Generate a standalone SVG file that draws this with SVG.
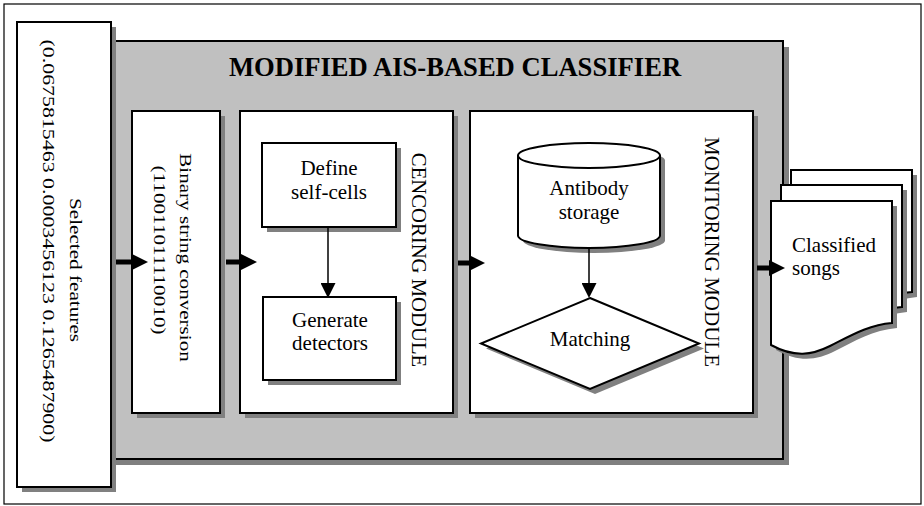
<svg xmlns="http://www.w3.org/2000/svg" width="924" height="506" viewBox="0 0 924 506">
<style>
  .box{fill:#fff;stroke:#000;stroke-width:2}
  .shadow{fill:#808080;stroke:none}
  .panel{fill:#C0C0C0;stroke:#000;stroke-width:2}
  text{font-family:"Liberation Serif","Times New Roman",serif;fill:#000}
  .t{font-size:21px}
  .c{text-anchor:middle}
  .title{font-size:26.6px;font-weight:bold;text-anchor:middle}
  .thick{stroke:#000;stroke-width:5;fill:none}
  .thin{stroke:#000;stroke-width:1.5;fill:none}
</style>
<defs>
  <marker id="bigHead" viewBox="0 0 16 16" refX="0" refY="8" markerWidth="16" markerHeight="16" markerUnits="userSpaceOnUse" orient="auto">
    <path d="M0,0 L16,8 L0,16 Z" fill="#000"/>
  </marker>
  <marker id="smallHead" viewBox="0 0 15 15" refX="0" refY="7.5" markerWidth="15" markerHeight="15" markerUnits="userSpaceOnUse" orient="auto">
    <path d="M0,0 L15,7.5 L0,15 Z" fill="#000"/>
  </marker>
  <path id="doc" d="M771,201 H892 V323 C868,325 850,336 830,346 C812,355 795,358 771,345 Z"/>
</defs>

<rect x="4" y="4" width="917" height="500" fill="#fff" stroke="#000" stroke-width="1.2"/>

<g id="classifier">
  <rect class="shadow" x="106" y="47" width="683" height="418"/>
  <rect class="panel" x="100" y="41" width="683" height="418"/>
  <text class="title" x="455" y="76" font-family="Liberation Serif, serif">MODIFIED AIS-BASED CLASSIFIER</text>
</g>

<g id="selected-features" font-family="Liberation Serif, serif">
  <rect class="shadow" x="22" y="27" width="94" height="465"/>
  <rect class="box" x="17" y="22" width="94" height="465"/>
  <text class="t c" style="font-size:21.2px" transform="translate(70,270) rotate(90) scale(1,0.82)">Selected features</text>
  <text class="t c" style="font-size:21.9px" transform="translate(43,241) rotate(90) scale(1,0.78)">(0.0675815463 0.0003456123 0.1265487900)</text>
</g>

<g id="binary-conversion" font-family="Liberation Serif, serif">
  <rect class="shadow" x="137" y="116" width="88" height="302"/>
  <rect class="box" x="132" y="111" width="88" height="302"/>
  <text class="t c" style="font-size:21.1px" transform="translate(180,257.5) rotate(90) scale(1,0.82)">Binary string conversion</text>
  <text class="t c" style="font-size:21.2px" transform="translate(154,250) rotate(90) scale(1,0.82)">(110011011110010)</text>
</g>

<g id="cencoring-module" font-family="Liberation Serif, serif">
  <rect class="shadow" x="245" y="116" width="213" height="302"/>
  <rect class="box" x="240" y="111" width="213" height="302"/>
  <text class="t c" style="font-size:20.7px" transform="translate(412,260) rotate(90)">CENCORING MODULE</text>
</g>

<g id="define-self-cells" font-family="Liberation Serif, serif">
  <rect class="shadow" x="267" y="148" width="134" height="84"/>
  <rect class="box" x="262" y="143" width="134" height="84"/>
  <text class="t c" x="329" y="175">Define</text>
  <text class="t c" x="329" y="199">self-cells</text>
</g>

<g id="generate-detectors" font-family="Liberation Serif, serif">
  <rect class="shadow" x="268" y="302" width="133" height="83"/>
  <rect class="box" x="263" y="297" width="133" height="83"/>
  <text class="t c" x="330" y="327">Generate</text>
  <text class="t c" x="330" y="350">detectors</text>
</g>

<g id="monitoring-module" font-family="Liberation Serif, serif">
  <rect class="shadow" x="475" y="116" width="283" height="302"/>
  <rect class="box" x="470" y="111" width="283" height="302"/>
  <text class="t c" style="font-size:21px" transform="translate(705,252) rotate(90)">MONITORING MODULE</text>
</g>

<g id="antibody-storage" font-family="Liberation Serif, serif">
  <path class="shadow" transform="translate(5,5)" d="M518,155.5 V235.5 A71,12.5 0 0 0 660,235.5 V155.5 A71,12.5 0 0 0 518,155.5 Z"/>
  <path class="box" d="M518,155.5 V235.5 A71,12.5 0 0 0 660,235.5 V155.5 A71,12.5 0 0 0 518,155.5 Z"/>
  <path fill="none" stroke="#000" stroke-width="2" d="M518,155.5 A71,12.5 0 0 0 660,155.5"/>
  <text class="t c" x="589" y="195">Antibody</text>
  <text class="t c" x="589" y="219">storage</text>
</g>

<g id="matching" font-family="Liberation Serif, serif">
  <polygon class="shadow" transform="translate(5,5)" points="590,298 699,343.5 590,389 481,343.5"/>
  <polygon class="box" points="590,298 699,343.5 590,389 481,343.5"/>
  <text class="t c" x="590" y="346">Matching</text>
</g>

<g id="classified-songs" font-family="Liberation Serif, serif">
  <use href="#doc" class="shadow" transform="translate(25,-26)"/>
  <use href="#doc" class="box" transform="translate(20,-31)"/>
  <use href="#doc" class="shadow" transform="translate(15,-11)"/>
  <use href="#doc" class="box" transform="translate(10,-16)"/>
  <use href="#doc" class="shadow" transform="translate(5,5)"/>
  <use href="#doc" class="box"/>
  <text class="t" x="792" y="252">Classified</text>
  <text class="t" x="792" y="275">songs</text>
</g>

<g id="connectors">
  <line class="thick" x1="116" y1="262" x2="132" y2="262" marker-end="url(#bigHead)"/>
  <line class="thick" x1="226" y1="262" x2="241" y2="262" marker-end="url(#bigHead)"/>
  <line class="thick" x1="458" y1="263" x2="469" y2="263" marker-end="url(#bigHead)"/>
  <line class="thick" x1="757" y1="268" x2="769" y2="268" marker-end="url(#bigHead)"/>
  <line class="thin" x1="328" y1="227" x2="328" y2="283" marker-end="url(#smallHead)"/>
  <line class="thin" x1="589" y1="248" x2="589" y2="283" marker-end="url(#smallHead)"/>
</g>
</svg>
